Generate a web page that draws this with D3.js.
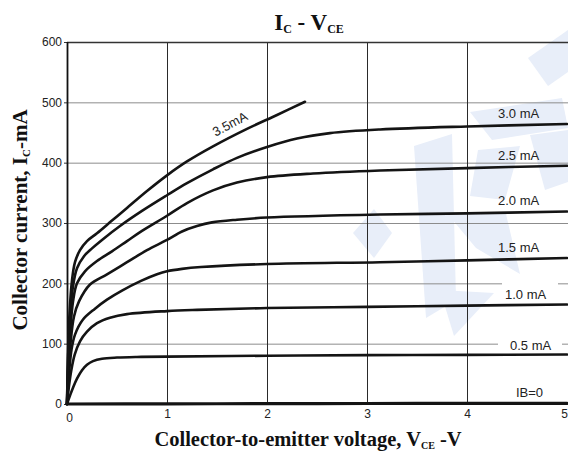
<!DOCTYPE html>
<html><head><meta charset="utf-8">
<script src="https://cdn.jsdelivr.net/npm/d3@7"></script>
<style>body{margin:0;background:#fff}svg{display:block}</style>
</head><body><svg id="c" width="568" height="453"></svg>
<script>
// ---- data (VCE in V, IC in mA) ----
const xTicks = [0, 1, 2, 3, 4, 5];
const yTicks = [0, 100, 200, 300, 400, 500, 600];
const ib0  = [[0,0],[1,0.3],[2,0.6],[3,0.8],[4,1],[5,1.2]];
const ib05 = [[0,0],[0.03,14],[0.06,27],[0.1,42],[0.15,56],[0.2,65],[0.26,71],[0.35,75],[0.5,77],[0.7,78],[1,78.5],[2,80],[3,81],[4,81.5],[5,82]];
const ib10 = [[0,0],[0.02,30],[0.043,56],[0.077,82],[0.13,104],[0.2,120],[0.3,134],[0.43,143],[0.6,149],[1,154],[1.3,156],[2,159],[3,161],[4,163],[5,165]];
const ib15 = [[0,0],[0.02,50],[0.045,90],[0.08,115],[0.16,140],[0.28,158],[0.4,173],[0.55,188],[0.74,204],[0.9,215],[1,220],[1.15,224],[1.34,227],[2,232],[3.13,235],[4,238],[5,242]];
const ib20 = [[0,0],[0.015,55],[0.035,100],[0.07,145],[0.12,170],[0.23,198],[0.4,215],[0.6,235],[0.8,255],[1,272],[1.15,286],[1.3,295],[1.45,301],[1.7,305.5],[2,309],[3.13,314],[4,316],[5,319]];
const ib25 = [[0,0],[0.012,60],[0.03,115],[0.06,170],[0.1,200],[0.18,220],[0.3,237],[0.45,253],[0.6,270],[0.75,287],[1,312],[1.2,333],[1.46,354],[1.7,367],[2,376],[2.46,382],[3.13,387],[4,391],[5,395]];
const ib30 = [[0,0],[0.01,70],[0.025,130],[0.06,195],[0.1,225],[0.17,245],[0.25,258],[0.35,272],[0.53,295],[0.75,320],[1,346],[1.2,366],[1.46,389],[1.7,408],[2,426],[2.3,440],[2.63,449],[3.13,455],[4,460],[5,464]];
const ib35 = [[0,0],[0.01,80],[0.025,150],[0.05,205],[0.08,235],[0.13,255],[0.2,270],[0.3,283],[0.45,304],[0.6,325],[0.8,353],[1,379],[1.2,402],[1.46,427],[1.8,456],[2.1,479],[2.38,501]];
const curves = [ib0, ib05, ib10, ib15, ib20, ib25, ib30, ib35];
const curveLabels = ["IB=0", "0.5 mA", "1.0 mA", "1.5 mA", "2.0 mA", "2.5 mA", "3.0 mA", "3.5mA"];

// ---- layout ----
const svg = d3.select("#c");
const x = d3.scaleLinear().domain([0, 5]).range([67, 567]);
const y = d3.scaleLinear().domain([0, 600]).range([404, 42]);
const sans = "'Liberation Sans', Arial, sans-serif";
const serif = "'Liberation Serif', 'Times New Roman', serif";

// watermark (decorative logo)
const wm = svg.append("g").attr("fill", "#e8eef9");
[
  [[528,58],[568,30],[568,72],[548,86]],
  [[470,112],[562,98],[568,128],[492,140]],
  [[414,146],[452,134],[456,300],[426,318]],
  [[446,212],[506,214],[520,274],[476,248]],
  [[440,290],[494,293],[454,336]],
  [[353,233],[374,209],[392,233],[374,258]],
  [[530,135],[568,130],[568,182],[545,190]],
  [[478,150],[520,146],[505,200],[470,196]]
].forEach(p => wm.append("polygon").attr("points", p.map(d => d.join(",")).join(" ")));

// gridlines
const grid = svg.append("g");
grid.selectAll("line.h").data(yTicks.filter(d => d > 0 && d < 600)).join("line")
  .attr("x1", x(0)).attr("x2", 568).attr("y1", d => y(d) + 0.5).attr("y2", d => y(d) + 0.5)
  .attr("stroke", "#8c8c8c").attr("stroke-width", 1);
grid.selectAll("line.v").data(xTicks.filter(d => d > 0 && d < 5)).join("line")
  .attr("x1", d => Math.round(x(d)) + 0.5).attr("x2", d => Math.round(x(d)) + 0.5)
  .attr("y1", y(600)).attr("y2", y(0))
  .attr("stroke", "#2a2a2a").attr("stroke-width", 1);
grid.append("line").attr("x1", x(0)).attr("x2", 568).attr("y1", y(600) + 0.5).attr("y2", y(600) + 0.5)
  .attr("stroke", "#333").attr("stroke-width", 1.5);

// label backgrounds that hide the gridlines
svg.append("rect").attr("x", 502).attr("y", 280).attr("width", 56).attr("height", 21).attr("fill", "#fff");
svg.append("rect").attr("x", 498).attr("y", 339).attr("width", 64).attr("height", 13).attr("fill", "#fff");

// axes
const yAxis = svg.append("g").attr("transform", `translate(${x(0)},0)`)
  .call(d3.axisLeft(y).tickValues(yTicks).tickFormat(d3.format("d")).tickSize(3).tickPadding(2));
yAxis.select(".domain").remove();
yAxis.selectAll("line").attr("stroke", "#333");
yAxis.selectAll("text").attr("font-family", sans).attr("font-size", 12).attr("fill", "#222");

const xAxis = svg.append("g").attr("transform", `translate(0,${y(0)})`)
  .call(d3.axisBottom(x).tickValues(xTicks).tickFormat(d3.format("d")).tickSize(0).tickPadding(5));
xAxis.select(".domain").remove();
xAxis.selectAll("text").attr("font-family", sans).attr("font-size", 12).attr("fill", "#222");
xAxis.selectAll(".tick").filter(d => d === 0).select("text").attr("dx", 2).attr("dy", "1.1em");
xAxis.selectAll(".tick").filter(d => d === 5).select("text").attr("dx", -3);

// left axis line
svg.append("line").attr("x1", x(0) + 0.5).attr("x2", x(0) + 0.5).attr("y1", y(600)).attr("y2", y(0) + 1)
  .attr("stroke", "#111").attr("stroke-width", 1.8);

// curves
const line = d3.line().x(d => x(d[0])).y(d => y(d[1])).curve(d3.curveCatmullRom.alpha(0.5));
svg.append("g").selectAll("path").data(curves).join("path")
  .attr("d", line).attr("fill", "none").attr("stroke", "#141414")
  .attr("stroke-width", (d, i) => i === 0 ? 3.2 : 2.6).attr("stroke-linecap", "round");

// curve labels
const lab = svg.append("g").attr("font-family", sans).attr("font-size", 13).attr("fill", "#222");
const labPos = [[516,397],[510,350],[505,299],[498,252],[498,205],[498,160],[498,118]];
labPos.forEach((p, i) => lab.append("text").attr("x", p[0]).attr("y", p[1]).text(curveLabels[i]));
lab.append("text").attr("transform", "translate(232,128) rotate(-28)").attr("text-anchor", "middle")
  .text(curveLabels[7]);

// titles
const t = svg.append("text").attr("x", 309).attr("y", 30).attr("text-anchor", "middle")
  .attr("font-family", serif).attr("font-weight", "bold").attr("font-size", 23).attr("fill", "#111");
t.append("tspan").text("I");
t.append("tspan").attr("font-size", 12).attr("dy", 3).text("C");
t.append("tspan").attr("dy", -3).text(" - V");
t.append("tspan").attr("font-size", 12).attr("dy", 3).text("CE");

const xt = svg.append("text").attr("x", 308).attr("y", 446).attr("text-anchor", "middle")
  .attr("font-family", serif).attr("font-weight", "bold").attr("font-size", 20.5).attr("fill", "#111");
xt.append("tspan").text("Collector-to-emitter voltage, V");
xt.append("tspan").attr("font-size", 10).attr("dy", 3).text("CE");
xt.append("tspan").attr("dy", -3).text(" -V");

const yt = svg.append("text").attr("transform", "translate(27,220) rotate(-90)").attr("text-anchor", "middle")
  .attr("font-family", serif).attr("font-weight", "bold").attr("font-size", 21).attr("fill", "#111");
yt.append("tspan").text("Collector current, I");
yt.append("tspan").attr("font-size", 11).attr("dy", 3).text("C");
yt.append("tspan").attr("dy", -3).text("-mA");
</script></body></html>
